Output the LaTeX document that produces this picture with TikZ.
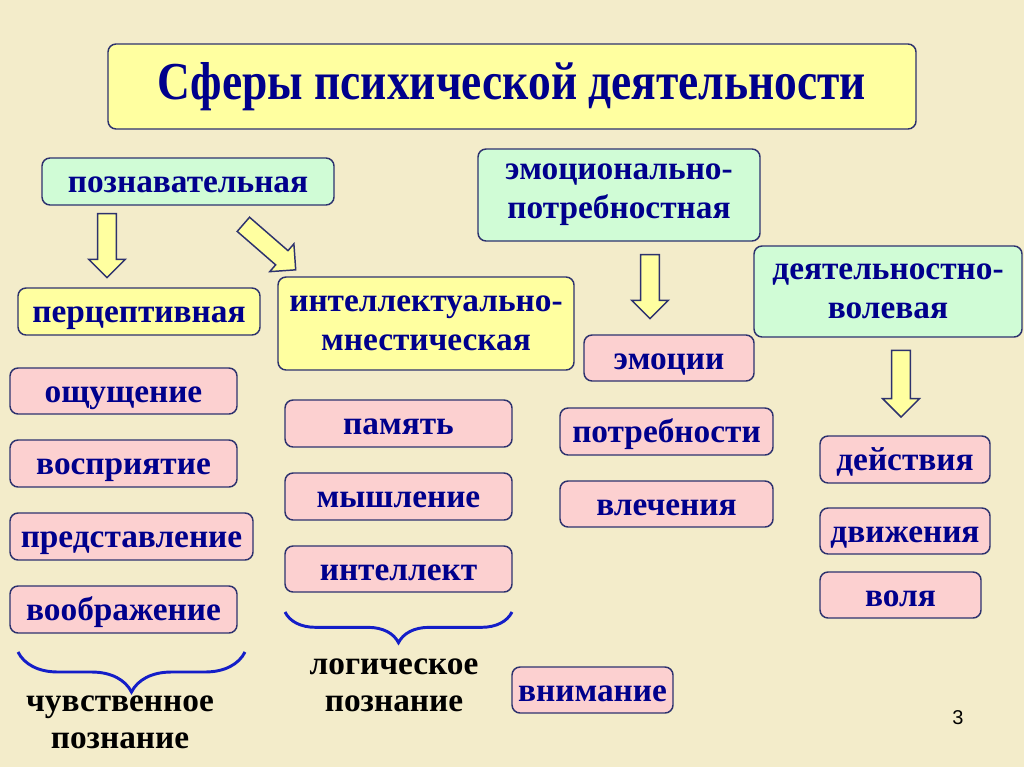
\documentclass[tikz,border=0pt]{standalone}
\usepackage{fontspec}
\setmainfont{Liberation Serif}
\newfontfamily\numfont{Liberation Sans}
\usetikzlibrary{shapes.arrows,decorations.pathreplacing}
\definecolor{bgc}{RGB}{243,236,202}
\definecolor{yel}{RGB}{255,255,160}
\definecolor{grn}{RGB}{208,252,214}
\definecolor{pnk}{RGB}{252,208,208}
\definecolor{edge}{RGB}{45,50,110}
\definecolor{txt}{RGB}{0,0,140}
\definecolor{brc}{RGB}{20,30,200}
\tikzset{
  box/.style={draw=edge, line width=1.1pt, rounded corners=6pt, inner sep=0pt,
    align=center, text=txt, font=\bfseries\fontsize{25}{29}\selectfont},
  oneline/.style={text height=20pt, text depth=3.5pt},
  ybox/.style={box, fill=yel},
  gbox/.style={box, fill=grn},
  pbox/.style={box, fill=pnk, oneline},
  barrow/.style={single arrow, draw=edge, fill=yel, line width=1.1pt,
    inner sep=6.5pt, single arrow head extend=6.75pt, minimum height=48pt},
  brace/.style={decorate, draw=brc, line width=2.2pt},
  lbl/.style={align=center, font=\bfseries\fontsize{25}{28}\selectfont, text=black}
}
% #1 style, #2 name, (#3,#4)-(#5,#6) corners in px, #7 text
\newcommand\bx[7]{\node[#1, minimum width={(#5-#3)*0.75pt}, minimum height={(#6-#4)*0.75pt}] (#2) at ({(#3+#5)/2},{(#4+#6)/2}) {#7};}
\begin{document}
\begin{tikzpicture}[x=0.75pt,y=-0.75pt]
\useasboundingbox (0,0) rectangle (1024,767);
\fill[bgc] (0,0) rectangle (1024,767);

\bx{ybox, font=\bfseries\fontsize{40}{44}\selectfont}{title}{108}{44}{916}{129}{\resizebox{531pt}{\height}{Сферы психической деятельности}}

\bx{gbox, oneline}{poz}{42}{158}{334}{205}{познавательная}
\bx{gbox}{emo}{478}{149}{760}{241}{эмоционально-\\потребностная}
\bx{gbox}{deya}{754}{246}{1022}{337}{деятельностно-\\волевая}

\bx{ybox, oneline}{perc}{18}{288}{260}{335}{перцептивная}
\bx{ybox}{intel}{278}{277}{574}{370}{интеллектуально-\\мнестическая}

\bx{pbox}{oshch}{10}{368}{237}{414}{ощущение}
\bx{pbox}{vospr}{10}{440}{237}{487}{восприятие}
\bx{pbox}{pred}{10}{513}{253}{560}{представление}
\bx{pbox}{voobr}{10}{586}{237}{633}{воображение}

\bx{pbox}{pam}{285}{400}{512}{447}{память}
\bx{pbox}{mysh}{285}{473}{512}{520}{мышление}
\bx{pbox}{intl}{285}{546}{512}{592}{интеллект}

\bx{pbox}{emoc}{584}{335}{754}{381}{эмоции}
\bx{pbox}{potr}{560}{408}{773}{455}{потребности}
\bx{pbox}{vlech}{560}{481}{773}{527}{влечения}

\bx{pbox}{deyst}{820}{436}{990}{483}{действия}
\bx{pbox}{dvizh}{820}{508}{990}{554}{движения}
\bx{pbox}{volya}{820}{572}{981}{618}{воля}

\bx{pbox}{vnim}{512}{667}{673}{713}{внимание}

% block arrows
\node[barrow, rotate=-90] (a1) at (107,241) {};
\node[barrow, rotate=-41, minimum height=52pt] (a2) at (266,244) {};
\node[barrow, rotate=-90] (a3) at (650,282) {};
\node[barrow, rotate=-90, minimum height=50pt] (a4) at (901,379) {};

% braces
\coordinate (b1s) at (18,652);
\coordinate (b1e) at (245,652);
\draw[brace, decoration={brace, mirror, amplitude=30pt}] (b1s) -- (b1e);
\coordinate (b2s) at (285,612);
\coordinate (b2e) at (512,612);
\draw[brace, decoration={brace, mirror, amplitude=23pt}] (b2s) -- (b2e);

\node[lbl] (chuv) at (120,722) {чувственное\\познание};
\node[lbl] (logi) at (394,685) {логическое\\познание};

\node[font=\numfont\fontsize{15}{17}\selectfont] (num) at (958,718) {3};
\end{tikzpicture}
\end{document}
